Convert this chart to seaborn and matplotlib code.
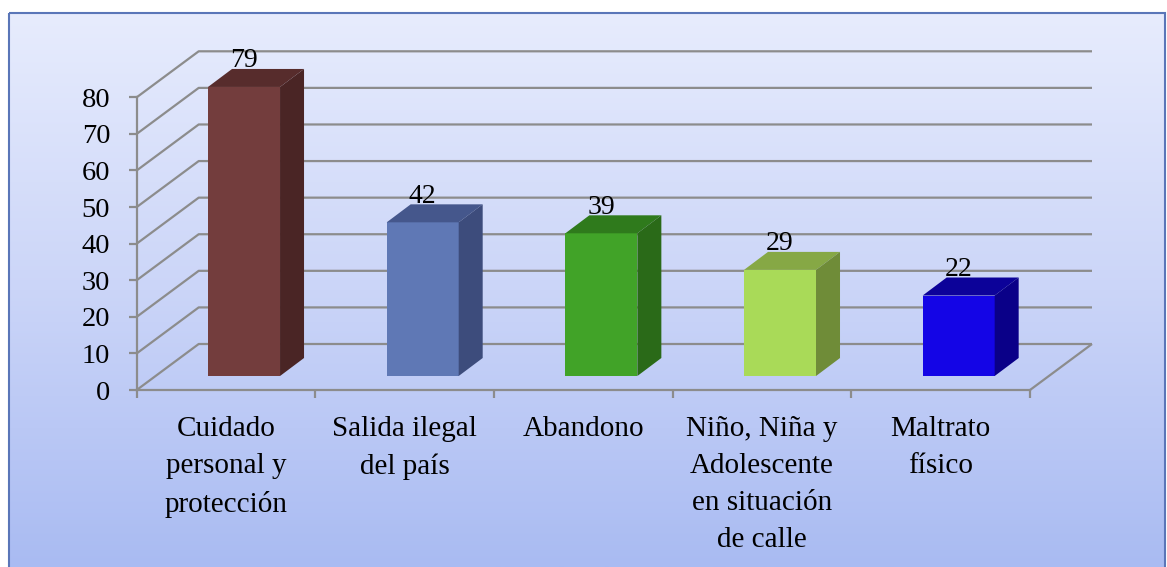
import numpy as np
import pandas as pd
import matplotlib
matplotlib.use("Agg")
import matplotlib.pyplot as plt
from matplotlib.colors import LinearSegmentedColormap
from matplotlib.patches import Polygon, Rectangle
import seaborn as sns

categories = ["Cuidado\npersonal y\nprotección", "Salida ilegal\ndel país", "Abandono",
              "Niño, Niña y\nAdolescente\nen situación\nde calle", "Maltrato\nfísico"]
values = [79, 42, 39, 29, 22]
front_colors = ["#733D3D", "#5F78B5", "#41A328", "#A9DA58", "#1405E6"]
top_colors = ["#572C2C", "#45578C", "#2F7A1C", "#86A845", "#0C0299"]
side_colors = ["#4A2525", "#3D4C7C", "#2A6A18", "#6F8C38", "#0A0088"]
y_ticks = list(range(0, 90, 10))

W, H = 1167, 567
FONT = "Liberation Serif"
sns.set_theme(style="white")
plt.rcParams["font.family"] = [FONT, "DejaVu Serif"]

fig = plt.figure(figsize=(W / 100, H / 100), dpi=100, facecolor="white")

# background panel, in pixel coordinates
bg = fig.add_axes([0, 0, 1, 1], zorder=0)
cmap = LinearSegmentedColormap.from_list("panel", ["#E7ECFD", "#CBD5F8", "#A9BBF2"])
bg.imshow(np.linspace(0, 1, 256).reshape(-1, 1), cmap=cmap, aspect="auto",
          extent=(9, 1165, 567, 13), zorder=1)
bg.add_patch(Rectangle((9, 13), 1156, 560, fill=False, ec="#5A76B8", lw=1.5, zorder=2))
bg.set_xlim(0, W)
bg.set_ylim(H, 0)
bg.axis("off")

# front plane of the chart
x0, x1, y_top, y_bot = 136.7, 1030.0, 97.3, 390.0
ax = fig.add_axes([x0 / W, 1 - y_bot / H, (x1 - x0) / W, (y_bot - y_top) / H], zorder=1)
ax.patch.set_alpha(0)

px_x = (x1 - x0) / 5
px_y = (y_bot - y_top) / 80
wall_dx, wall_dy = 62 / px_x, 46 / px_y
bar_dx, bar_dy = 24 / px_x, 18 / px_y
shift, lift = 18 / px_x, 14 / px_y
label_drop = 4.5 / px_y

df = pd.DataFrame({"cat": categories, "val": values})
sns.barplot(data=df, x="cat", y="val", hue="cat", palette=front_colors, width=0.403,
            dodge=False, legend=False, bottom=lift, saturation=1, ax=ax, zorder=4,
            linewidth=0)
ax.set_xlim(-0.5, 4.5)
ax.set_ylim(0, 80)

GRID = "#8C8C8C"
LW = 1.6
line = dict(color=GRID, lw=LW, clip_on=False, solid_capstyle="butt")
xl, xr = ax.get_xlim()
for v in y_ticks:
    ax.plot([xl, xl + wall_dx, xr + wall_dx], [v, v + wall_dy, v + wall_dy], zorder=2, **line)
ax.plot([xr, xr + wall_dx], [0, wall_dy], zorder=2, **line)

for bar, val, c_top, c_side in zip(ax.patches, values, top_colors, side_colors):
    bar.set_x(bar.get_x() + shift)
    bar.set_clip_on(False)
    l, r = bar.get_x(), bar.get_x() + bar.get_width()
    b, t = bar.get_y(), bar.get_y() + bar.get_height()
    ax.add_patch(Polygon([(l, t), (r, t), (r + bar_dx, t + bar_dy), (l + bar_dx, t + bar_dy)],
                         fc=c_top, ec="none", clip_on=False, zorder=4))
    ax.add_patch(Polygon([(r, b), (r, t), (r + bar_dx, t + bar_dy), (r + bar_dx, b + bar_dy)],
                         fc=c_side, ec="none", clip_on=False, zorder=4))
    ax.text((l + r) / 2, t + bar_dy - label_drop, str(val), ha="center", va="bottom", fontsize=20,
            color="black", zorder=6, clip_on=False, linespacing=1)

sns.despine(ax=ax, top=True, right=True)
for s in ("left", "bottom"):
    ax.spines[s].set_color(GRID)
    ax.spines[s].set_linewidth(LW)
ax.set_yticks(y_ticks)
ax.set_xticks(np.arange(-0.5, 5, 1), minor=True)
ax.set_xticks(range(5))
ax.set_xticklabels(categories, fontsize=21, linespacing=1.54, color="black")
ax.set_yticklabels([str(v) for v in y_ticks], fontsize=20.5, color="black")
ax.tick_params(axis="y", length=6, width=LW, color=GRID, left=True, pad=13)
ax.tick_params(axis="x", which="major", length=0, pad=19, bottom=False)
ax.tick_params(axis="x", which="minor", length=6, width=LW, color=GRID, bottom=True)
ax.set_xlabel("")
ax.set_ylabel("")

fig.savefig("out.png", dpi=100, facecolor="white")
